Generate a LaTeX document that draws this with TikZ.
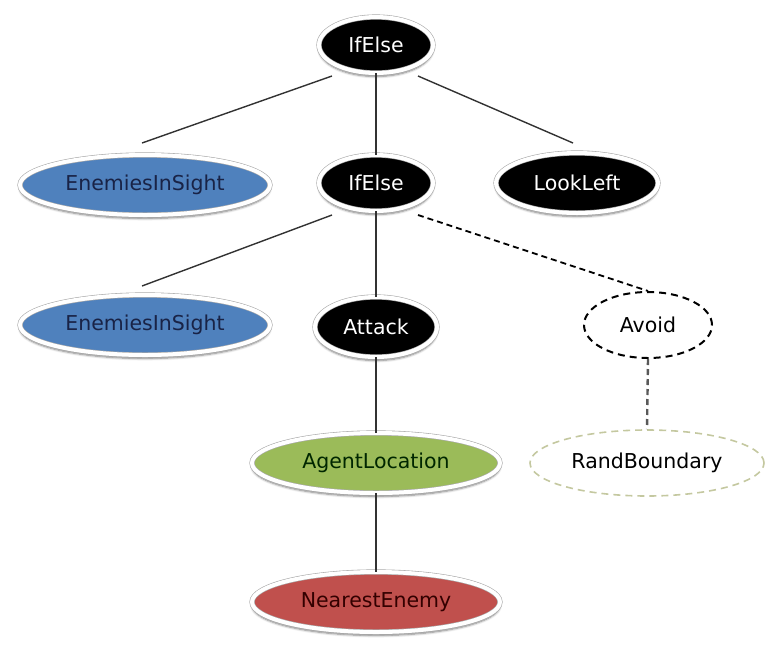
\documentclass[tikz,border=0pt]{standalone}
\usepackage{fontspec}
\setmainfont{DejaVu Sans}
\usetikzlibrary{shapes.geometric,shadows.blur,calc}

\definecolor{nodeblue}{RGB}{79,129,189}
\definecolor{nodegreen}{RGB}{155,187,89}
\definecolor{nodered}{RGB}{192,80,77}
\definecolor{rimgray}{RGB}{170,170,170}
\definecolor{paleolive}{RGB}{196,200,160}
\definecolor{linkgray}{RGB}{50,50,50}
\definecolor{navytext}{RGB}{25,35,70}

\tikzset{
  pill/.style={ellipse, inner sep=0pt,
    font=\fontsize{20.5}{24}\selectfont,
    draw=rimgray, line width=0.6pt, double=white, double distance=4pt,
    blur shadow={shadow xshift=0pt, shadow yshift=-3.5pt, shadow blur steps=6, shadow opacity=50}},
  darkpill/.style={pill, fill=black, text=white},
  bluepill/.style={pill, fill=nodeblue, text=navytext},
  greenpill/.style={pill, fill=nodegreen, text=black!85!green},
  redpill/.style={pill, fill=nodered, text=black!80!red},
  dashpill/.style={ellipse, inner sep=0pt, font=\fontsize{20.5}{24}\selectfont},
  link/.style={draw=linkgray, line width=1.4pt},
  dashlink/.style={draw=black, line width=1.8pt, dash pattern=on 6pt off 4pt},
}

\begin{document}
\begin{tikzpicture}[x=1pt, y=-1pt]
  \useasboundingbox (0,0) rectangle (766,649);

  % tree nodes
  \node[darkpill, minimum width=114pt, minimum height=56pt] (ifA) at (376,45) {IfElse};
  \node[bluepill, minimum width=250pt, minimum height=60pt] (eis1) at (145,185) {EnemiesInSight};
  \node[darkpill, minimum width=114pt, minimum height=56pt] (ifB) at (376,183) {IfElse};
  \node[darkpill, minimum width=162pt, minimum height=60pt] (look) at (577,183) {LookLeft};
  \node[bluepill, minimum width=250pt, minimum height=60pt] (eis2) at (145,325) {EnemiesInSight};
  \node[darkpill, minimum width=122pt, minimum height=60pt] (attack) at (376,327) {Attack};
  \node[dashpill, minimum width=128pt, minimum height=66pt,
        draw=black, line width=2pt, dash pattern=on 7pt off 5pt] (avoid) at (648,325) {Avoid};
  \node[greenpill, minimum width=248pt, minimum height=60pt] (agent) at (376,463) {AgentLocation};
  \node[dashpill, minimum width=234pt, minimum height=66pt,
        draw=paleolive, line width=1.6pt, dash pattern=on 7pt off 5pt] (rand) at (647,463) {RandBoundary};
  \node[redpill, minimum width=248pt, minimum height=60pt] (near) at (376,602) {NearestEnemy};

  % connectors
  \draw[link] ($(ifA)+(-44,31)$) -- ($(eis1)+(-3,-42)$);
  \draw[link] (ifA.south) -- (ifB.north);
  \draw[link] ($(ifA)+(42,31)$) -- ($(look)+(-4,-40)$);
  \draw[link] ($(ifB)+(-44,32)$) -- ($(eis2)+(-3,-39)$);
  \draw[link] (ifB.south) -- (attack.north);
  \draw[dashlink] ($(ifB)+(42,32)$) -- (avoid.north);
  \draw[link] (attack.south) -- (agent.north);
  \draw[dashlink, draw=black!65, line width=2.4pt] (avoid.south) -- (rand.north);
  \draw[link] (agent.south) -- (near.north);
\end{tikzpicture}
\end{document}
